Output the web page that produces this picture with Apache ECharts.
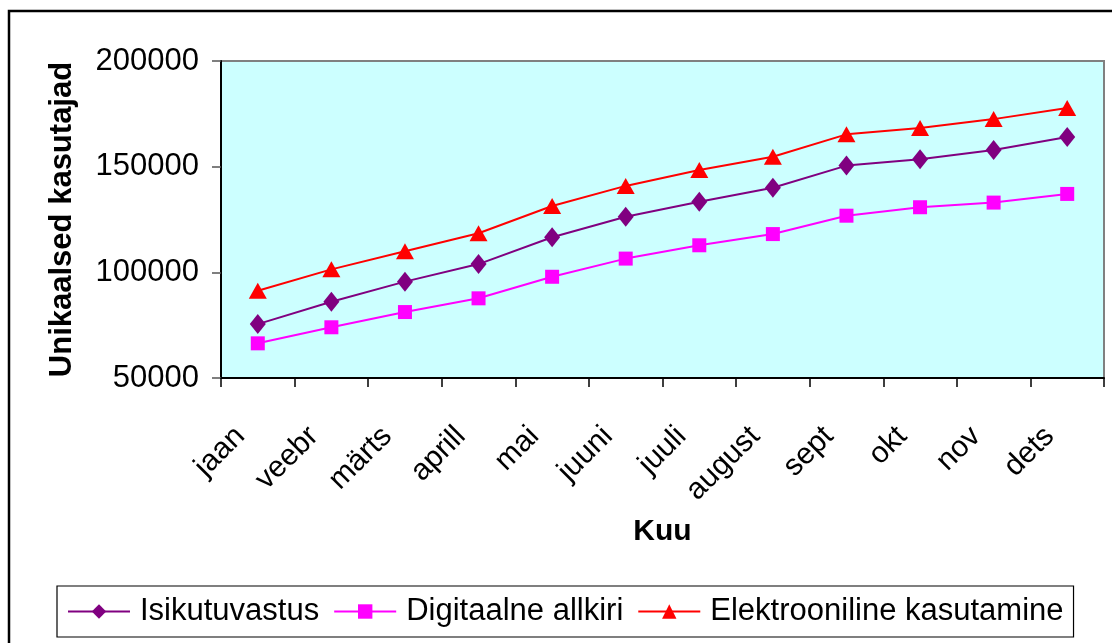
<!DOCTYPE html>
<html>
<head>
<meta charset="utf-8">
<script src="https://cdn.jsdelivr.net/npm/echarts@6/dist/echarts.min.js"></script>
<style>
html,body{margin:0;padding:0;background:#fff;}
#chart{width:1112px;height:643px;}
</style>
</head>
<body>
<div id="chart"></div>
<script>
const months = ['jaan','veebr','märts','aprill','mai','juuni','juuli','august','sept','okt','nov','dets'];
const isikutuvastus = [75500, 86100, 95600, 103900, 116600, 126300, 133400, 140000, 150500, 153500, 157900, 164000];
const digitaalneAllkiri = [66400, 74000, 81200, 87700, 97900, 106500, 112800, 118100, 126800, 130800, 133000, 137100];
const elektroonilineKasutamine = [91300, 101400, 110000, 118500, 131400, 140900, 148400, 154700, 165300, 168300, 172500, 177800];
const yTicks = {min: 50000, max: 200000, interval: 50000};
const seriesNames = ['Isikutuvastus', 'Digitaalne allkiri', 'Elektrooniline kasutamine'];

const FONT = 'Liberation Sans, Arial, sans-serif';
const chart = echarts.init(document.getElementById('chart'), null, {renderer: 'canvas'});

function lineSeries(name, data, color, symbol, size) {
  return {
    name: name, type: 'line', data: data,
    symbol: symbol, symbolSize: size, showSymbol: true,
    lineStyle: {color: color, width: 2},
    itemStyle: {color: color, borderWidth: 0},
    emphasis: {disabled: true},
    animation: false
  };
}

chart.setOption({
  animation: false,
  backgroundColor: '#ffffff',
  graphic: [{
    type: 'rect', z: 100, silent: true,
    shape: {x: 9, y: 11, width: 1110, height: 640},
    style: {fill: 'none', stroke: '#000', lineWidth: 2.5}
  }],
  grid: {
    left: 221, top: 61, right: 8, bottom: 265,
    show: true, backgroundColor: '#ccffff', borderColor: '#808080', borderWidth: 2
  },
  legend: {
    left: 57, top: 586,
    padding: [8, 10, 8, 10],
    borderColor: '#000', borderWidth: 1.2,
    itemWidth: 62, itemHeight: 18, itemGap: 14,
    data: seriesNames,
    textStyle: {fontFamily: FONT, fontSize: 31, color: '#000', padding: [0, 0, 0, 5], lineHeight: 35}
  },
  xAxis: {
    type: 'category', data: months, boundaryGap: true,
    name: 'Kuu', nameLocation: 'middle', nameGap: 139,
    nameTextStyle: {fontFamily: FONT, fontSize: 30, fontWeight: 'bold', color: '#000'},
    axisLine: {lineStyle: {color: '#000', width: 2}},
    axisTick: {show: true, length: 9, lineStyle: {color: '#000', width: 1.5}},
    axisLabel: {
      rotate: 45, margin: 36, padding: [0, 25, 0, 0],
      fontFamily: FONT, fontSize: 30, color: '#000', interval: 0
    },
    splitLine: {show: false}
  },
  yAxis: {
    type: 'value', min: yTicks.min, max: yTicks.max, interval: yTicks.interval,
    name: 'Unikaalsed kasutajad', nameLocation: 'middle', nameGap: 143, nameRotate: 90,
    nameTextStyle: {fontFamily: FONT, fontSize: 31, fontWeight: 'bold', color: '#000'},
    axisLine: {show: true, lineStyle: {color: '#000', width: 2}},
    axisTick: {show: true, length: 9, lineStyle: {color: '#555', width: 1.5}},
    axisLabel: {fontFamily: FONT, fontSize: 31, color: '#000', margin: 22, formatter: function (v) { return String(v); }},
    splitLine: {show: false}
  },
  series: [
    lineSeries(seriesNames[0], isikutuvastus, '#800080', 'diamond', [16, 20]),
    lineSeries(seriesNames[1], digitaalneAllkiri, '#ff00ff', 'rect', 14),
    lineSeries(seriesNames[2], elektroonilineKasutamine, '#ff0000', 'triangle', [18, 16])
  ]
});
</script>
</body>
</html>
